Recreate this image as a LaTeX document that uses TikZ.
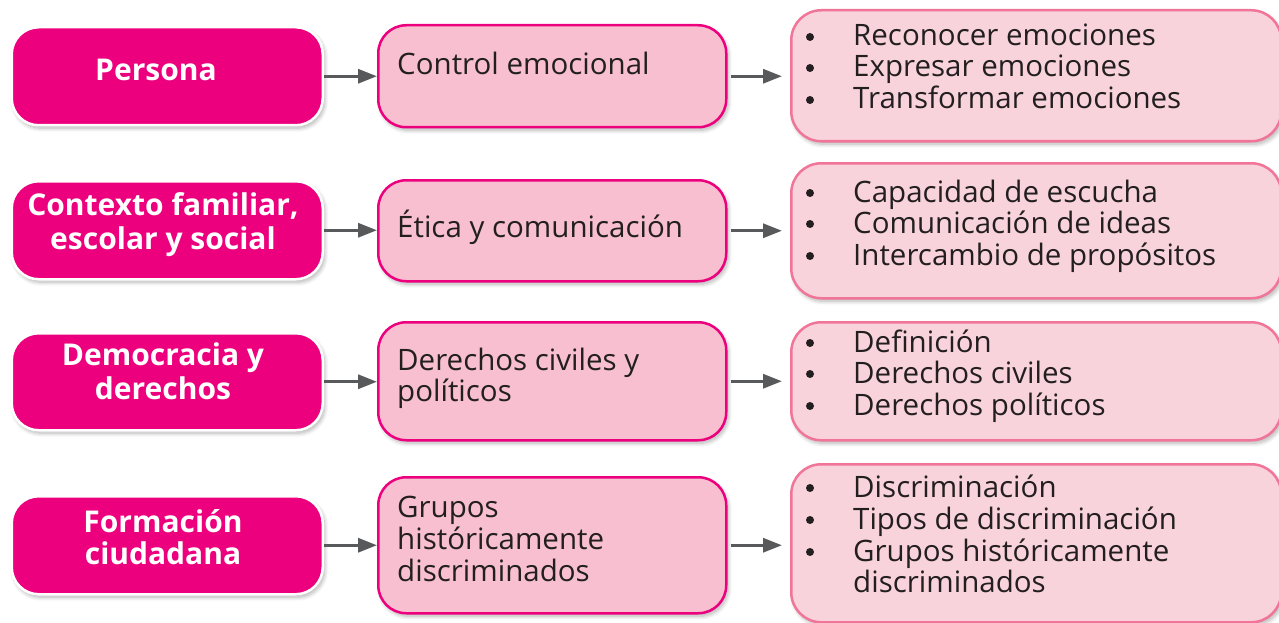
\documentclass[tikz,border=0pt]{standalone}
\usepackage{fontspec}
\setmainfont{Open Sans}
\usetikzlibrary{arrows.meta,shadows.blur}
\definecolor{magenta}{HTML}{EC007D}
\definecolor{midfill}{HTML}{F7BFCF}
\definecolor{rightfill}{HTML}{F9D3DC}
\definecolor{rightline}{HTML}{F07599}
\definecolor{arrowgray}{HTML}{58595B}
\definecolor{txt}{HTML}{231F20}
\tikzset{
  shad/.style={blur shadow={shadow xshift=2pt,shadow yshift=-3pt,shadow blur steps=8,shadow blur radius=4pt,shadow opacity=30}},
  leftbox/.style={shad,rectangle,rounded corners=27pt,fill=magenta,draw=white,line width=2.5pt,
    minimum width=311pt,anchor=north west,inner sep=0pt},
  midbox/.style={shad,rectangle,rounded corners=28pt,fill=midfill,draw=magenta,line width=2.5pt,
    minimum width=348pt,anchor=north west,inner sep=0pt},
  rightbox/.style={shad,rectangle,rounded corners=30pt,fill=rightfill,draw=rightline,line width=2.5pt,
    minimum width=490pt,anchor=north west,inner sep=0pt},
  lefttxt/.style={anchor=base,inner sep=0pt,text=white,font=\fontsize{30}{34}\selectfont\bfseries},
  midtxt/.style={anchor=base west,inner sep=0pt,text=txt,font=\fontsize{29.5}{32}\selectfont},
  bul/.style={circle,fill=txt,minimum size=8pt,inner sep=0pt,yshift=9pt},
  arr/.style={draw=arrowgray,line width=3.2pt,-{Triangle[length=19pt,width=14pt]}}
}
\begin{document}
\begin{tikzpicture}[x=1pt,y=-1pt]
\useasboundingbox (0,0) rectangle (1279,623);
% ---------- boxes ----------
\node[leftbox,minimum height=98pt] (L1) at (10.5,26) {};
\node[leftbox,minimum height=98pt] (L2) at (10.5,180) {};
\node[leftbox,minimum height=97pt] (L3) at (10.5,332) {};
\node[leftbox,minimum height=98pt] (L4) at (10.5,495) {};
\node[midbox,minimum height=102pt] (M1) at (377,24) {};
\node[midbox,minimum height=101pt] (M2) at (377,179) {};
\node[midbox,minimum height=118pt] (M3) at (377,321) {};
\node[midbox,minimum height=136pt] (M4) at (377,476) {};
\node[rightbox,minimum height=131pt] (R1) at (790,9) {};
\node[rightbox,minimum height=135pt] (R2) at (790,162) {};
\node[rightbox,minimum height=118pt] (R3) at (790,321) {};
\node[rightbox,minimum height=158pt] (R4) at (790,463) {};
% ---------- arrows ----------
\draw[arr] (L1.east) -- (L1.east -| M1.west);
\draw[arr] (L2.east) -- (L2.east -| M2.west);
\draw[arr] (L3.east) -- (L3.east -| M3.west);
\draw[arr] (L4.east) -- (L4.east -| M4.west);
\draw[arr,shorten <=3pt,shorten >=8pt] (M1.east) -- (M1.east -| R1.west);
\draw[arr,shorten <=3pt,shorten >=8pt] (M2.east) -- (M2.east -| R2.west);
\draw[arr,shorten <=3pt,shorten >=8pt] (M3.east) -- (M3.east -| R3.west);
\draw[arr,shorten <=3pt,shorten >=8pt] (M4.east) -- (M4.east -| R4.west);
% ---------- left texts ----------
\node[lefttxt] (l1a) at (156,81) {Persona};
\node[lefttxt] (l2a) at (163,215) {Contexto familiar,};
\node[lefttxt] (l2b) at (163,249) {escolar y social};
\node[lefttxt] (l3a) at (163,365) {Democracia y};
\node[lefttxt] (l3b) at (163,399) {derechos};
\node[lefttxt] (l4a) at (163,532) {Formación};
\node[lefttxt] (l4b) at (163,564) {ciudadana};
% ---------- middle texts ----------
\node[midtxt] (m1a) at (397,75) {Control emocional};
\node[midtxt] (m2a) at (397,237) {Ética y comunicación};
\node[midtxt] (m3a) at (397,370) {Derechos civiles y};
\node[midtxt] (m3b) at (397,401) {políticos};
\node[midtxt] (m4a) at (397,517) {Grupos};
\node[midtxt] (m4b) at (397,549) {históricamente};
\node[midtxt] (m4c) at (397,581) {discriminados};
% ---------- right texts ----------
\node[bul] (b1a) at (810,46) {};
\node[bul] (b1b) at (810,77) {};
\node[bul] (b1c) at (810,109) {};
\node[midtxt] (r1a) at (853,46) {Reconocer emociones};
\node[midtxt] (r1b) at (853,77) {Expresar emociones};
\node[midtxt] (r1c) at (853,109) {Transformar emociones};
\node[bul] (b2a) at (810,202) {};
\node[bul] (b2b) at (810,233) {};
\node[bul] (b2c) at (810,265) {};
\node[midtxt] (r2a) at (853,202) {Capacidad de escucha};
\node[midtxt] (r2b) at (853,233) {Comunicación de ideas};
\node[midtxt] (r2c) at (853,265) {Intercambio de propósitos};
\node[bul] (b3a) at (810,352) {};
\node[bul] (b3b) at (810,383) {};
\node[bul] (b3c) at (810,415) {};
\node[midtxt] (r3a) at (853,352) {Definición};
\node[midtxt] (r3b) at (853,383) {Derechos civiles};
\node[midtxt] (r3c) at (853,415) {Derechos políticos};
\node[bul] (b4a) at (810,497) {};
\node[bul] (b4b) at (810,529) {};
\node[bul] (b4c) at (810,561) {};
\node[midtxt] (r4a) at (853,497) {Discriminación};
\node[midtxt] (r4b) at (853,529) {Tipos de discriminación};
\node[midtxt] (r4c) at (853,561) {Grupos históricamente};
\node[midtxt] (r4d) at (853,592) {discriminados};
\end{tikzpicture}
\end{document}
